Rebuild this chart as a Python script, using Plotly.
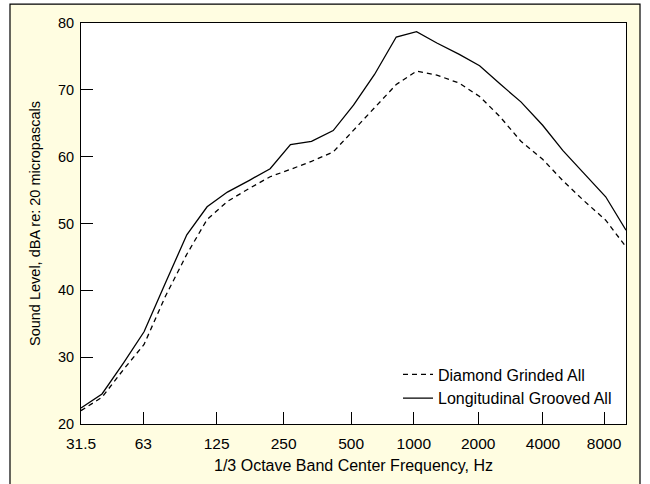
import math
import plotly.graph_objects as go

# 1/3 octave band centre frequencies (Hz)
freqs = [25, 31.5, 40, 50, 63, 80, 100, 125, 160, 200, 250, 315, 400, 500, 630,
         800, 1000, 1250, 1600, 2000, 2500, 3150, 4000, 5000, 6300, 8000, 10000]

# Sound levels, dBA re: 20 micropascals
diamond_grinded = [22.0, 24.0, 28.2, 31.9, 39.0, 45.4, 50.6, 53.3, 55.3, 57.0, 58.1,
                   59.3, 60.7, 63.9, 67.3, 70.8, 72.8, 72.2, 71.0, 69.0, 66.0, 62.3,
                   59.6, 56.4, 53.4, 50.5, 46.5]
longitudinal_grooved = [22.4, 24.5, 29.2, 33.8, 41.0, 48.3, 52.5, 54.7, 56.5, 58.2, 61.8,
                        62.3, 63.9, 67.7, 72.3, 77.9, 78.7, 77.0, 75.3, 73.6, 70.9, 68.2,
                        64.7, 60.9, 57.5, 54.0, 49.0]

series_names = ["Diamond Grinded All", "Longitudinal Grooved All"]

x_tick_labels = ["31.5", "63", "125", "250", "500", "1000", "2000", "4000", "8000"]
y_tick_values = [20, 30, 40, 50, 60, 70, 80]

# where the reference draws its x tick labels (Hz on the log axis)
x_tick_positions = [25, 49.6, 111, 232, 487, 970, 1970, 4015, 7860]

FONT = "Liberation Sans, Arial, sans-serif"
PANEL = "#FFFDE1"

fig = go.Figure()
fig.add_trace(go.Scatter(x=freqs, y=diamond_grinded, mode="lines", name=series_names[0],
                         line=dict(color="black", width=1.3, dash="5px,4px")))
fig.add_trace(go.Scatter(x=freqs, y=longitudinal_grooved, mode="lines", name=series_names[1],
                         line=dict(color="black", width=1.3)))

L, R, T, B = 81, 24, 23, 57
W, H = 650, 484
pw, ph = W - L - R, H - T - B

def px_x(p):
    return (p - L) / pw

def px_y(p):
    return (H - B - p) / ph

white_strip = dict(type="rect", xref="paper", yref="paper", layer="above",
                   fillcolor="white", line=dict(width=0))

fig.update_layout(
    width=W, height=H,
    margin=dict(l=L, r=R, t=T, b=B, pad=0),
    paper_bgcolor=PANEL,
    plot_bgcolor="white",
    font=dict(family=FONT, size=14, color="black"),
    showlegend=True,
    legend=dict(x=px_x(398), y=px_y(360), xanchor="left", yanchor="top",
                bgcolor="rgba(0,0,0,0)", borderwidth=0, tracegroupgap=0,
                font=dict(family=FONT, size=16, color="black")),
    shapes=[
        dict(white_strip, x0=px_x(-5), x1=px_x(10), y0=px_y(500), y1=px_y(-5)),
        dict(white_strip, x0=px_x(640), x1=px_x(660), y0=px_y(500), y1=px_y(-5)),
        dict(white_strip, x0=px_x(-5), x1=px_x(660), y0=px_y(4), y1=px_y(-5)),
        dict(type="rect", xref="paper", yref="paper", layer="above",
             x0=px_x(10), x1=px_x(640), y0=px_y(520), y1=px_y(4),
             line=dict(color="black", width=1.2)),
    ],
)

fig.update_xaxes(
    type="log", range=[math.log10(freqs[0]), math.log10(freqs[-1])],
    tickmode="array", tickvals=x_tick_positions, ticktext=x_tick_labels,
    ticks="inside", ticklen=12, tickwidth=1, tickcolor="black",
    showline=True, linecolor="black", linewidth=1, mirror=True,
    showgrid=False, zeroline=False, ticklabelstandoff=5,
    tickfont=dict(family=FONT, size=15.5, color="black"),
    title=dict(text="1/3 Octave Band Center Frequency, Hz", standoff=9,
               font=dict(family=FONT, size=16, color="black")),
)
fig.update_yaxes(
    range=[20, 80], tickmode="array", tickvals=y_tick_values,
    ticks="inside", ticklen=12, tickwidth=1, tickcolor="black",
    showline=True, linecolor="black", linewidth=1, mirror=True,
    showgrid=False, zeroline=False, ticklabelstandoff=3,
    tickfont=dict(family=FONT, size=14.5, color="black"),
    title=dict(text="Sound Level, dBA re: 20 micropascals", standoff=13,
               font=dict(family=FONT, size=14.5, color="black")),
)

fig.write_html("out.html", config={"displayModeBar": False},
               post_script="document.body.style.margin='0';")
